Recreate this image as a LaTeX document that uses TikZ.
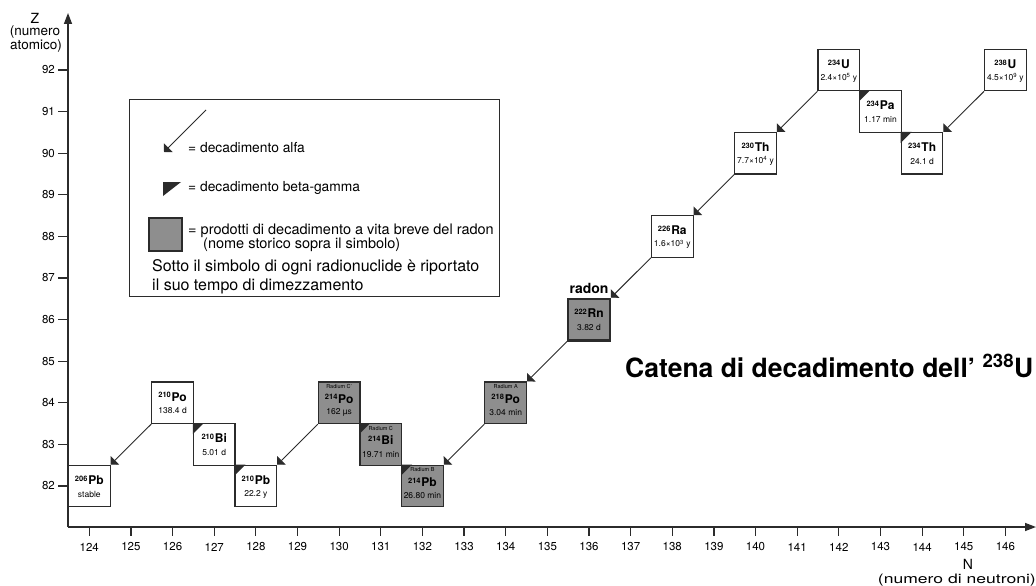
\documentclass[tikz,border=0pt]{standalone}
\usepackage{fontspec}
\setmainfont{TeX Gyre Heros}
\usepackage{graphicx}
\usetikzlibrary{arrows.meta}
\definecolor{ink}{HTML}{2B2B2B}
\definecolor{boxgray}{HTML}{8E8E8E}
\newcommand\fs[1]{\fontsize{#1}{#1}\selectfont}
\newcommand\nuc[2]{\raisebox{3.2pt}{\fs{7.5}\bfseries #1}\kern0.8pt{\fs{12}\bfseries #2}}
\newcommand\nuclide[6]{%
  \node[nbox] (#1) at (#2-124,#3-82) {};
  \node[txt] at ([yshift=6pt]#1.center) {\nuc{#4}{#5}};
  \node[txt] at ([yshift=-8pt]#1.center) {\fs{8.5}#6};
}
\newcommand\gnuclide[7]{%
  \node[gbox] (#1) at (#2-124,#3-82) {};
  \node[txt] at ([yshift=16pt]#1.center) {\fs{5.5}#4};
  \node[txt] at ([yshift=4pt]#1.center) {\nuc{#5}{#6}};
  \node[txt] at ([yshift=-10pt]#1.center) {\fs{8.5}#7};
}
\newcommand\betamark[1]{\fill[ink] (#1.north west) -- ++(11pt,0) -- ++(-11pt,-11pt) -- cycle;}
\begin{document}
\begin{tikzpicture}[x=1pt,y=-1pt,
  txt/.style={inner sep=0pt, text=black},
  nbox/.style={draw=ink, line width=1.1pt, fill=white, minimum width=41.64pt, minimum height=41.6pt, inner sep=0pt},
  gbox/.style={nbox, fill=boxgray},
  alphadecay/.style={draw=ink, line width=0.9pt, -{Triangle[angle=90:8.5pt]}},
  axisline/.style={draw=ink, line width=1.4pt},
  tickline/.style={draw=ink, line width=1.2pt},
  ticklab/.style={txt, font=\fs{11.5}},
]
\useasboundingbox (0,0) rectangle (1036,586);
\fill[white] (0,0) rectangle (1036,586);

% axes
\coordinate (O) at (68,527);
\coordinate (Ytip) at (68,13);
\coordinate (Xtip) at (1036,527);
\draw[axisline,-{Triangle[length=11pt,width=8pt]}] (O) -- (Ytip);
\draw[axisline,-{Triangle[length=11pt,width=8pt]}] (O) -- (Xtip);
\foreach \n in {124,...,146} {
  \draw[tickline] ({89.3+(\n-124)*41.64},527) -- ++(0,9);
  \node[ticklab] at ({89.3+(\n-124)*41.64},547) {\n};
}
\foreach \z in {82,...,92} {
  \draw[tickline] (58,{486-(\z-82)*41.6}) -- (68,{486-(\z-82)*41.6});
  \node[ticklab, anchor=east] at (55,{486-(\z-82)*41.6}) {\z};
}
\node[txt] (zlab) at (35,18) {\fs{14}Z};
\node[txt] (zlab2) at (35,32) {\fs{13.5}(numero};
\node[txt] (zlab3) at (36,46) {\fs{13.5}atomico)};
\node[txt] (nlab) at (968,564) {\fs{14}N};
\node[txt, anchor=east] (nlab2) at (1036,580) {\scalebox{1.35}[1]{\fs{13}(numero di neutroni)}};

% legend
\node[draw=ink, line width=1.1pt, anchor=north west, minimum width=370pt, minimum height=197pt, inner sep=0pt] (legend) at (129,99) {};
\coordinate (la1) at (206,110);
\coordinate (la2) at (164,152);
\draw[alphadecay] (la1) -- (la2);
\node[txt, anchor=west] (l1) at (188,148) {\fs{13.8}= decadimento alfa};
\fill[ink] (163,182) -- (181,182) -- (163,196) -- cycle;
\node[txt, anchor=west] (l2) at (188,188) {\fs{13.8}= decadimento beta-gamma};
\draw[draw=ink, line width=1.2pt, fill=boxgray] (149,218) rectangle (182,251);
\node[txt, anchor=west] (l3) at (188,231) {\fs{14.5}= prodotti di decadimento a vita breve del radon};
\node[txt, anchor=west] (l4) at (203,245) {\fs{14.5}(nome storico sopra il simbolo)};
\node[txt, anchor=west] (l5) at (152,267) {\fs{16}Sotto il simbolo di ogni radionuclide è riportato};
\node[txt, anchor=west] (l6) at (152,286) {\fs{16}il suo tempo di dimezzamento};

% title
\node[txt, anchor=base west] (title) at (625,377) {\fs{26.5}\bfseries Catena di decadimento dell’ \textsuperscript{238}U};

% chain
\begin{scope}[shift={(89.3,486)},x=41.64pt,y=41.6pt]
\nuclide{U238}{146}{92}{238}{U}{4.5×10\textsuperscript{9} y}
\nuclide{Th234}{144}{90}{234}{Th}{24.1 d}
\nuclide{Pa234}{143}{91}{234}{Pa}{1.17 min}
\nuclide{U234}{142}{92}{234}{U}{2.4×10\textsuperscript{5} y}
\nuclide{Th230}{140}{90}{230}{Th}{7.7×10\textsuperscript{4} y}
\nuclide{Ra226}{138}{88}{226}{Ra}{1.6×10\textsuperscript{3} y}
\node[gbox, line width=2.2pt] (Rn222) at (136-124,86-82) {};
\node[txt] at ([yshift=6pt]Rn222.center) {\nuc{222}{Rn}};
\node[txt] at ([yshift=-8pt]Rn222.center) {\fs{8.5}3.82 d};
\node[txt, anchor=base] (radon) at ([yshift=4pt]Rn222.north) {\fs{14}\bfseries radon};
\gnuclide{Po218}{134}{84}{Radium A}{218}{Po}{3.04 min}
\gnuclide{Pb214}{132}{82}{Radium B}{214}{Pb}{26.80 min}
\gnuclide{Bi214}{131}{83}{Radium C}{214}{Bi}{19.71 min}
\gnuclide{Po214}{130}{84}{Radium C'}{214}{Po}{162 µs}
\nuclide{Pb210}{128}{82}{210}{Pb}{22.2 y}
\nuclide{Bi210}{127}{83}{210}{Bi}{5.01 d}
\nuclide{Po210}{126}{84}{210}{Po}{138.4 d}
\nuclide{Pb206}{124}{82}{206}{Pb}{stable}
\end{scope}

% alpha decays
\draw[alphadecay] (U238.south west) -- (Th234.north east);
\draw[alphadecay] (U234.south west) -- (Th230.north east);
\draw[alphadecay] (Th230.south west) -- (Ra226.north east);
\draw[alphadecay] (Ra226.south west) -- (Rn222.north east);
\draw[alphadecay] (Rn222.south west) -- (Po218.north east);
\draw[alphadecay] (Po218.south west) -- (Pb214.north east);
\draw[alphadecay] (Po214.south west) -- (Pb210.north east);
\draw[alphadecay] (Po210.south west) -- (Pb206.north east);

% beta decays
\betamark{Th234}
\betamark{Pa234}
\betamark{Pb214}
\betamark{Bi214}
\betamark{Pb210}
\betamark{Bi210}
\end{tikzpicture}
\end{document}
